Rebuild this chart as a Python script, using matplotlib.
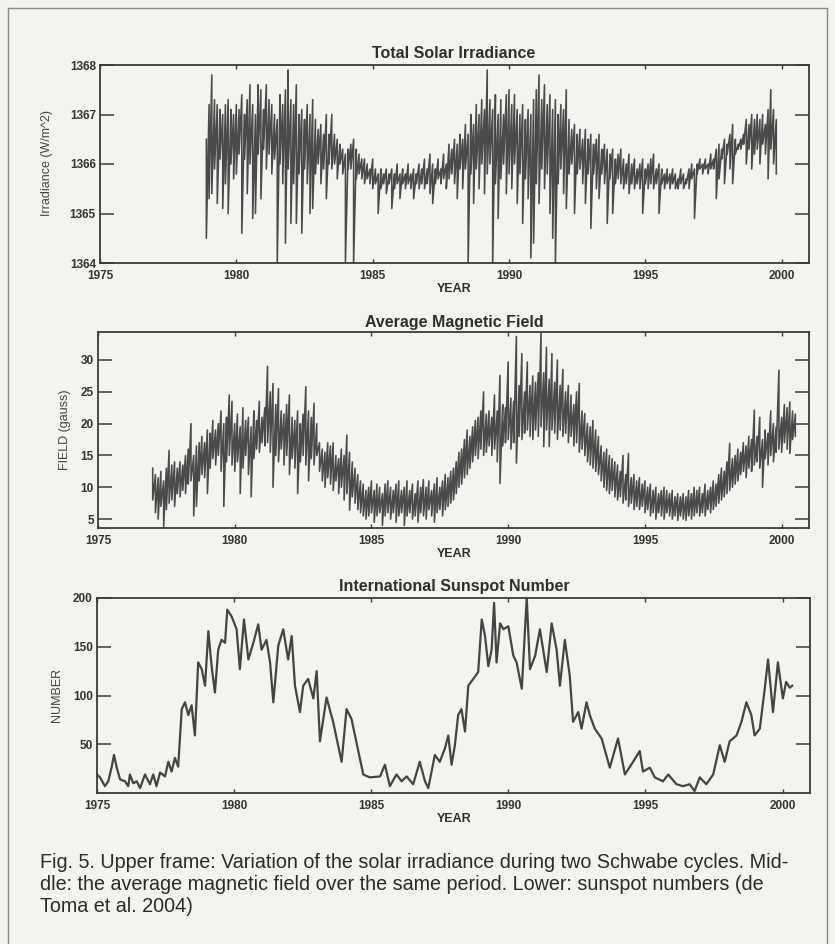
import numpy as np
import matplotlib.pyplot as plt
from matplotlib.lines import Line2D

# ==========================================
# data
# ==========================================
# total solar irradiance (W/m^2): upper / lower reach of the daily values,
# one pair every 0.1 yr starting at irr_start
irr_start = 1978.9
irr_hi = [1366.5,
    1367.2, 1367.8, 1367.3, 1367.2, 1367.1, 1367.0, 1367.2, 1367.3, 1367.1, 1367.0,
    1367.2, 1367.1, 1367.4, 1367.0, 1367.3, 1367.6, 1367.2, 1367.0, 1367.6, 1367.5,
    1367.1, 1367.6, 1367.3, 1367.2, 1367.0, 1366.9, 1367.4, 1367.2, 1367.5, 1367.9,
    1367.3, 1367.2, 1367.6, 1367.0, 1367.1, 1366.9, 1367.2, 1367.0, 1367.3, 1366.9,
    1366.7, 1366.8, 1366.6, 1367.0, 1366.6, 1367.0, 1366.6, 1366.5, 1366.4, 1366.3,
    1366.2, 1366.3, 1366.4, 1366.5, 1366.3, 1366.2, 1366.1, 1366.1, 1366.0, 1365.9,
    1366.1, 1365.9, 1365.8, 1365.9, 1365.8, 1365.9, 1365.8, 1365.9, 1365.8, 1366.0,
    1365.8, 1365.9, 1365.8, 1366.0, 1365.8, 1365.9, 1365.8, 1366.0, 1365.9, 1366.1,
    1365.9, 1366.2, 1366.0, 1365.9, 1366.1, 1365.9, 1366.2, 1366.0, 1366.4, 1366.3,
    1366.5, 1366.4, 1366.6, 1366.5, 1366.8, 1366.6, 1367.0, 1366.8, 1367.2, 1367.0,
    1367.3, 1367.1, 1367.9, 1367.3, 1367.1, 1367.4, 1367.0, 1367.3, 1367.0, 1367.4,
    1367.5, 1367.2, 1367.4, 1367.1, 1367.0, 1367.2, 1366.9, 1367.1, 1367.0, 1367.3,
    1367.5, 1367.8, 1367.3, 1367.6, 1367.2, 1367.4, 1367.1, 1367.3, 1367.0, 1367.2,
    1367.1, 1367.5, 1366.9, 1366.7, 1366.8, 1366.6, 1366.7, 1366.5, 1366.7, 1366.5,
    1366.6, 1366.4, 1366.5, 1366.6, 1366.3, 1366.4, 1366.3, 1366.2, 1366.3, 1366.1,
    1366.2, 1366.3, 1366.1, 1366.0, 1366.2, 1366.0, 1366.1, 1365.9, 1366.0, 1366.1,
    1365.9, 1366.0, 1366.1, 1366.2, 1365.9, 1366.0, 1365.9, 1365.8, 1365.9, 1365.8,
    1365.9, 1365.8, 1365.7, 1365.9, 1365.8, 1365.7, 1365.9, 1366.0, 1365.9, 1366.0,
    1366.1, 1366.0, 1366.1, 1366.0, 1366.2, 1366.1, 1366.3, 1366.4, 1366.3, 1366.5,
    1366.4, 1366.6, 1366.8, 1366.5, 1366.4, 1366.5, 1366.6, 1366.9, 1366.8, 1367.0,
    1366.9, 1367.0, 1366.9, 1367.0, 1366.8, 1367.1, 1367.5, 1367.1, 1366.9]
irr_lo = [1364.5,
    1365.3, 1365.4, 1365.9, 1365.2, 1366.1, 1365.1, 1365.6, 1365.0, 1366.0, 1365.7,
    1365.8, 1366.2, 1364.6, 1366.1, 1365.4, 1366.0, 1364.9, 1365.0, 1366.2, 1365.3,
    1366.3, 1365.9, 1366.2, 1365.8, 1366.1, 1364.0, 1366.0, 1365.6, 1364.4, 1365.9,
    1364.8, 1365.6, 1364.8, 1365.8, 1364.6, 1365.9, 1365.6, 1365.0, 1365.1, 1365.8,
    1366.0, 1365.6, 1365.9, 1365.3, 1366.0, 1365.9, 1366.0, 1365.7, 1366.0, 1365.8,
    1364.0, 1365.9, 1365.9, 1364.0, 1365.7, 1365.8, 1365.7, 1365.6, 1365.7, 1365.6,
    1365.5, 1365.6, 1365.0, 1365.5, 1365.6, 1365.4, 1365.6, 1365.1, 1365.5, 1365.6,
    1365.3, 1365.6, 1365.5, 1365.6, 1365.5, 1365.3, 1365.6, 1365.5, 1365.6, 1365.5,
    1365.6, 1365.4, 1365.2, 1365.6, 1365.7, 1365.6, 1365.7, 1365.5, 1365.7, 1365.8,
    1365.6, 1365.3, 1365.9, 1365.5, 1365.9, 1364.0, 1365.8, 1365.2, 1365.9, 1365.5,
    1366.0, 1365.4, 1365.8, 1366.0, 1364.0, 1365.6, 1364.9, 1365.7, 1366.0, 1365.4,
    1365.8, 1365.5, 1366.0, 1365.2, 1365.8, 1364.8, 1365.7, 1365.3, 1364.1, 1364.4,
    1365.6, 1365.2, 1365.9, 1365.5, 1365.8, 1365.0, 1364.5, 1364.0, 1365.6, 1365.9,
    1365.4, 1365.1, 1365.8, 1366.0, 1365.0, 1365.8, 1365.9, 1365.6, 1365.2, 1365.8,
    1364.7, 1365.8, 1365.5, 1365.3, 1365.8, 1365.6, 1364.8, 1365.7, 1365.0, 1365.6,
    1365.7, 1365.6, 1365.5, 1365.6, 1365.4, 1365.6, 1365.5, 1365.6, 1365.5, 1365.0,
    1365.6, 1365.5, 1365.6, 1365.5, 1365.6, 1365.0, 1365.6, 1365.5, 1365.6, 1365.5,
    1365.6, 1365.5, 1365.5, 1365.6, 1365.5, 1365.6, 1365.5, 1365.7, 1364.9, 1365.8,
    1365.9, 1365.8, 1365.9, 1365.8, 1365.9, 1365.9, 1365.3, 1365.7, 1366.1, 1365.6,
    1366.2, 1365.9, 1365.6, 1366.2, 1366.3, 1366.3, 1366.4, 1366.0, 1366.3, 1365.9,
    1366.2, 1366.3, 1366.0, 1366.4, 1366.2, 1365.7, 1366.3, 1366.0, 1365.8]

# average magnetic field (gauss), same layout, starting at mag_start
mag_start = 1977.0
mag_hi = [
    13.0, 12.0, 11.5, 12.5, 11.0, 13.0, 15.8, 13.5, 14.0, 13.0,
    14.0, 13.5, 15.0, 16.0, 20.0, 15.0, 16.5, 17.0, 18.0, 17.0,
    19.0, 18.5, 20.5, 19.0, 20.0, 22.0, 20.0, 21.0, 24.5, 23.5,
    20.0, 21.5, 19.5, 22.5, 20.5, 21.0, 19.5, 22.0, 20.5, 23.5,
    21.0, 22.5, 29.0, 25.0, 26.3, 23.0, 25.5, 22.0, 21.5, 23.0,
    24.5, 21.0, 20.5, 22.0, 20.0, 21.5, 25.8, 22.0, 21.0, 23.2,
    20.0, 17.0, 16.0, 15.5, 17.0, 16.5, 17.0, 15.0, 14.5, 16.0,
    15.0, 18.2, 15.5, 14.0, 13.0, 12.0, 11.0, 10.5, 9.5, 10.0,
    11.0, 9.5, 10.5, 10.0, 9.0, 10.5, 11.0, 10.0, 9.5, 10.5,
    11.0, 9.5, 10.0, 11.0, 9.5, 10.5, 9.0, 11.0, 10.0, 11.2,
    10.0, 11.0, 9.5, 10.5, 11.5, 10.0, 11.0, 12.0, 11.5, 12.5,
    13.0, 14.0, 15.5, 16.0, 17.5, 19.0, 18.0, 19.5, 20.5, 21.0,
    22.0, 25.0, 21.5, 22.0, 21.0, 24.5, 22.0, 27.6, 23.0, 22.5,
    29.7, 24.0, 23.5, 33.7, 26.0, 31.0, 25.0, 29.7, 26.0, 27.5,
    26.5, 28.0, 34.2, 28.0, 32.0, 27.0, 31.0, 26.5, 30.0, 26.0,
    28.5, 25.0, 26.0, 24.5, 23.0, 25.0, 26.3, 22.0, 21.6, 20.0,
    19.5, 20.5, 19.0, 18.0, 16.5, 15.5, 16.0, 15.0, 14.5, 14.0,
    13.5, 12.5, 15.0, 12.0, 15.3, 11.5, 12.0, 11.0, 11.5, 10.5,
    11.0, 10.0, 10.5, 9.5, 10.0, 9.0, 9.5, 10.0, 9.5, 9.0,
    9.5, 8.5, 9.0, 8.5, 9.0, 8.5, 9.5, 9.0, 10.0, 9.5,
    10.0, 9.0, 10.5, 9.5, 10.0, 11.0, 10.5, 12.0, 13.0, 12.5,
    14.0, 16.9, 14.5, 15.0, 16.0, 15.5, 17.0, 16.5, 18.0, 17.5,
    22.1, 18.0, 21.0, 17.5, 19.0, 18.5, 22.0, 20.0, 19.5, 28.4,
    21.0, 23.0, 22.5, 23.4, 22.0, 21.5]
mag_lo = [
    8.0, 6.0, 5.0, 7.0, 3.8, 6.5, 7.5, 8.0, 7.0, 9.0,
    8.5, 9.5, 9.0, 10.5, 11.0, 5.5, 7.0, 11.0, 12.0, 11.5,
    9.0, 13.0, 14.5, 13.5, 15.0, 12.5, 7.0, 14.0, 15.0, 13.5,
    12.5, 14.0, 9.0, 13.0, 15.0, 12.0, 8.5, 14.5, 16.0, 15.5,
    17.0, 16.5, 17.0, 15.5, 10.0, 15.0, 14.0, 16.0, 13.5, 15.0,
    12.0, 14.5, 13.0, 9.0, 14.0, 15.0, 13.5, 11.0, 14.5, 13.5,
    15.0, 12.5, 11.0, 10.0, 11.5, 10.5, 9.5, 11.0, 9.0, 10.0,
    8.0, 9.0, 6.4, 8.5, 7.5, 6.5, 6.0, 5.5, 5.0, 5.5,
    6.0, 4.5, 5.5, 6.0, 4.0, 5.5, 6.0, 5.0, 6.0, 4.5,
    5.5, 6.0, 4.0, 5.5, 6.0, 5.0, 5.5, 4.5, 6.0, 5.5,
    5.0, 6.5, 5.5, 4.5, 6.0, 6.5, 5.5, 6.5, 7.0, 7.5,
    8.0, 9.0, 10.0, 10.5, 11.5, 12.0, 13.0, 14.0, 15.0, 14.5,
    16.0, 15.0, 15.5, 16.5, 15.0, 16.0, 14.0, 10.6, 16.5, 17.0,
    17.5, 16.0, 17.0, 13.8, 18.0, 17.5, 18.5, 19.0, 18.0, 17.5,
    19.0, 18.0, 19.5, 16.4, 19.0, 16.4, 19.0, 18.5, 17.5, 19.0,
    18.0, 18.5, 17.0, 18.0, 16.5, 17.0, 15.5, 16.0, 15.0, 14.0,
    13.5, 13.0, 12.5, 12.0, 11.0, 10.0, 9.5, 9.0, 9.5, 8.5,
    8.0, 8.5, 7.5, 8.0, 7.0, 7.5, 6.5, 7.0, 6.5, 7.0,
    6.0, 6.5, 5.5, 6.0, 5.0, 6.0, 5.5, 5.0, 6.0, 5.5,
    5.0, 5.5, 4.8, 5.5, 5.0, 4.8, 5.5, 5.0, 5.5, 6.0,
    5.5, 6.0, 5.5, 6.5, 6.0, 6.5, 7.0, 7.5, 8.0, 8.5,
    9.0, 9.5, 10.0, 10.5, 11.0, 12.0, 12.5, 11.5, 13.0, 12.5,
    13.5, 14.0, 13.0, 10.0, 14.5, 13.5, 15.0, 14.0, 15.5, 16.0,
    15.5, 17.0, 16.0, 15.3, 17.5, 18.0]

# international sunspot number
ssn_year = [
    1975.00, 1975.11, 1975.29, 1975.41, 1975.53, 1975.62, 1975.72, 1975.84,
    1976.02, 1976.14, 1976.20, 1976.32, 1976.45, 1976.57, 1976.75, 1976.93,
    1977.05, 1977.17, 1977.30, 1977.48, 1977.60, 1977.72, 1977.84, 1977.96,
    1978.09, 1978.21, 1978.33, 1978.45, 1978.57, 1978.69, 1978.82, 1978.94,
    1979.06, 1979.18, 1979.30, 1979.42, 1979.54, 1979.67, 1979.75, 1979.91,
    1980.09, 1980.21, 1980.36, 1980.52, 1980.70, 1980.88, 1981.00, 1981.18,
    1981.31, 1981.43, 1981.61, 1981.79, 1981.97, 1982.10, 1982.22, 1982.40,
    1982.52, 1982.70, 1982.89, 1983.01, 1983.13, 1983.37, 1983.61, 1983.92,
    1984.10, 1984.28, 1984.71, 1984.95, 1985.32, 1985.50, 1985.68, 1985.92,
    1986.11, 1986.29, 1986.53, 1986.77, 1986.96, 1987.08, 1987.32, 1987.50,
    1987.69, 1987.81, 1987.93, 1988.05, 1988.17, 1988.29, 1988.42, 1988.54,
    1988.72, 1988.90, 1989.03, 1989.15, 1989.27, 1989.39, 1989.48, 1989.57,
    1989.70, 1989.82, 1990.00, 1990.18, 1990.30, 1990.49, 1990.67, 1990.79,
    1990.98, 1991.15, 1991.27, 1991.40, 1991.58, 1991.76, 1991.88, 1992.06,
    1992.24, 1992.36, 1992.55, 1992.67, 1992.85, 1992.97, 1993.15, 1993.40,
    1993.70, 1994.00, 1994.25, 1994.55, 1994.79, 1994.91, 1995.16, 1995.34,
    1995.64, 1995.83, 1996.13, 1996.37, 1996.61, 1996.79, 1996.98, 1997.22,
    1997.47, 1997.71, 1997.89, 1998.07, 1998.32, 1998.50, 1998.68, 1998.86,
    1998.98, 1999.17, 1999.35, 1999.47, 1999.65, 1999.83, 2000.01, 2000.13,
    2000.26, 2000.35]
ssn_value = [
    19, 16, 7, 12, 26, 39, 26, 14,
    12, 7, 19, 10, 12, 5, 19, 9,
    19, 7, 21, 17, 32, 22, 36, 27,
    86, 93, 80, 90, 59, 134, 127, 110,
    166, 130, 103, 147, 157, 154, 188, 181,
    168, 127, 178, 137, 154, 173, 147, 157,
    134, 93, 151, 168, 137, 161, 110, 83,
    110, 117, 97, 125, 53, 98, 73, 32,
    86, 76, 19, 16, 17, 29, 7, 19,
    12, 17, 9, 32, 12, 5, 39, 32,
    46, 59, 29, 49, 80, 86, 63, 110,
    117, 124, 178, 161, 130, 147, 195, 134,
    174, 168, 171, 141, 134, 107, 200, 127,
    141, 168, 147, 124, 174, 147, 110, 157,
    120, 73, 83, 66, 93, 80, 66, 56,
    26, 56, 19, 32, 43, 22, 26, 16,
    12, 19, 9, 7, 9, 2, 16, 9,
    19, 49, 32, 53, 59, 73, 93, 80,
    59, 66, 107, 137, 83, 134, 97, 114,
    108, 110]

year_ticks = [1975, 1980, 1985, 1990, 1995, 2000]
titles = ["Total Solar Irradiance", "Average Magnetic Field",
          "International Sunspot Number"]
ylabels = ["Irradiance (W/m^2)", "FIELD (gauss)", "NUMBER"]
caption = ["Fig. 5. Upper frame: Variation of the solar irradiance during two Schwabe cycles. Mid-",
           "dle: the average magnetic field over the same period. Lower: sunspot numbers (de",
           "Toma et al. 2004)"]

# ==========================================
# drawing
# ==========================================
paper = '#f3f3f0'
ink = '#3a3a3a'
W, H = 835, 944
plt.rcParams['font.family'] = ['Liberation Sans', 'DejaVu Sans']


def box(l, t, r, b):
    return [l / W, 1 - b / H, (r - l) / W, (b - t) / H]


def zigzag(start, hi, lo):
    # one vertical stroke per sample, from the high reading to the low one
    t = start + 0.1 * np.arange(len(hi))
    return np.repeat(t, 2), np.column_stack([hi, lo]).ravel()


def style(ax, ylim, yticks):
    ax.set_facecolor(paper)
    ax.set_xlim(1975, 2001)
    ax.set_ylim(*ylim)
    ax.set_xticks(year_ticks)
    ax.set_yticks(yticks)
    for s in ax.spines.values():
        s.set_color(ink)
        s.set_linewidth(1.3)
    ax.tick_params(axis='x', direction='in', length=3, width=1, colors=ink,
                   top=True, pad=5, labelsize=8.5)
    ax.tick_params(axis='y', direction='in', length=10, width=1.1, colors=ink,
                   right=True, pad=3, labelsize=8.5)
    for lab in ax.get_xticklabels() + ax.get_yticklabels():
        lab.set_fontweight('bold')
        lab.set_color('#333333')


fig = plt.figure(figsize=(W / 100, H / 100), dpi=100, facecolor=paper)

ax1 = fig.add_axes(box(100, 65, 809, 263))
x, y = zigzag(irr_start, irr_hi, irr_lo)
ax1.plot(x, y, color='#4a4a4a', lw=1.15)
style(ax1, (1364, 1368), [1364, 1365, 1366, 1367, 1368])

ax2 = fig.add_axes(box(98, 332, 809, 528))
x, y = zigzag(mag_start, mag_hi, mag_lo)
ax2.plot(x, y, color='#4a4a4a', lw=1.15)
style(ax2, (3.6, 34.4), [5, 10, 15, 20, 25, 30])

ax3 = fig.add_axes(box(97, 598, 810, 793))
ax3.plot(ssn_year, ssn_value, color='#444444', lw=1.6)
style(ax3, (0, 200), [50, 100, 150, 200])

for i, ty in enumerate([53, 322, 587]):
    fig.text(454 / W, 1 - ty / H, titles[i], ha='center', va='center',
             fontsize=11.5, fontweight='bold', color='#2e2e2e')
for ty in [289, 554, 819]:
    fig.text(454 / W, 1 - ty / H, "YEAR", ha='center', va='center',
             fontsize=9, fontweight='bold', color='#2e2e2e')
for (lx, ly), lab in zip([(47, 163), (65, 430), (57, 695)], ylabels):
    fig.text(lx / W, 1 - ly / H, lab, rotation=90, ha='center', va='center',
             fontsize=9, color='#444444')

for i, ty in enumerate([862, 885, 906]):
    fig.text(40 / W, 1 - ty / H, caption[i], ha='left', va='center',
             fontsize=14.2, color='#2a2a2a')

# frame of the scanned figure
for xs, ys in [([8, 8], [8, 944]), ([827, 827], [8, 944]), ([8, 827], [8, 8])]:
    fig.add_artist(Line2D([v / W for v in xs], [1 - v / H for v in ys],
                          color='#8a8a8a', lw=1.0))

fig.savefig('out.png', dpi=100, facecolor=paper)
